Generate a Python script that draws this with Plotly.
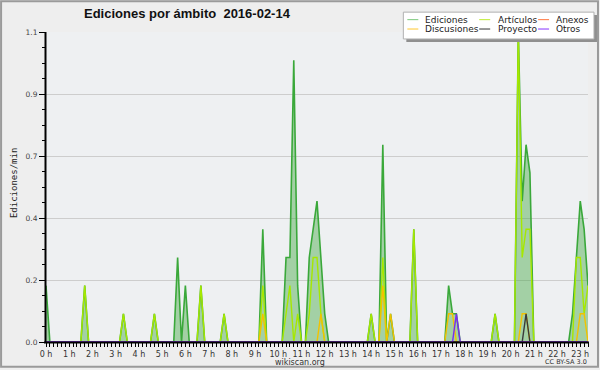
import plotly.graph_objects as go

# 10-minute slots from 00:00 (visible part of the day)
hour_tickvals = [0, 6, 12, 18, 24, 30, 36, 42, 48, 54, 60, 66, 72, 78, 84, 90,
                 96, 102, 108, 114, 120, 126, 132, 138]
hour_labels = ["0 h", "1 h", "2 h", "3 h", "4 h", "5 h", "6 h", "7 h", "8 h", "9 h",
               "10 h", "11 h", "12 h", "13 h", "14 h", "15 h", "16 h", "17 h",
               "18 h", "19 h", "20 h", "21 h", "22 h", "23 h"]
y_tickvals = [0, 0.22, 0.44, 0.66, 0.88, 1.1]
y_ticktext = ["0.0", "0.2", "0.4", "0.7", "0.9", "1.1"]

ediciones = [
    0.2, 0, 0, 0, 0, 0,        # 0 h
    0, 0, 0, 0, 0.2, 0,        # 1 h
    0, 0, 0, 0, 0, 0,          # 2 h
    0, 0, 0.1, 0, 0, 0,        # 3 h
    0, 0, 0, 0, 0.1, 0,        # 4 h
    0, 0, 0, 0, 0.3, 0,        # 5 h
    0.2, 0, 0, 0, 0.2, 0,      # 6 h
    0, 0, 0, 0, 0.1, 0,        # 7 h
    0, 0, 0, 0, 0, 0,          # 8 h
    0, 0, 0.4, 0, 0, 0,        # 9 h
    0, 0, 0.3, 0.3, 1.0, 0.2,  # 10 h
    0, 0, 0.3, 0.4, 0.5, 0.3,  # 11 h
    0.1, 0, 0, 0, 0, 0,        # 12 h
    0, 0, 0, 0, 0, 0,          # 13 h
    0.1, 0, 0, 0.7, 0, 0.1,    # 14 h
    0, 0, 0, 0, 0, 0.4,        # 15 h
    0, 0, 0, 0, 0, 0,          # 16 h
    0, 0, 0.2, 0.1, 0.1, 0,    # 17 h
    0, 0, 0, 0, 0, 0,          # 18 h
    0, 0, 0.1, 0, 0, 0,        # 19 h
    0, 0, 1.1, 0.5, 0.7, 0.6,  # 20 h
    0, 0, 0, 0, 0, 0,          # 21 h
    0, 0, 0, 0, 0.1, 0.3,      # 22 h
    0.5, 0.4, 0.2,             # 23 h
]
articulos = [
    0, 0, 0, 0, 0, 0,          # 0 h
    0, 0, 0, 0, 0.2, 0,        # 1 h
    0, 0, 0, 0, 0, 0,          # 2 h
    0, 0, 0.1, 0, 0, 0,        # 3 h
    0, 0, 0, 0, 0.1, 0,        # 4 h
    0, 0, 0, 0, 0, 0,          # 5 h
    0, 0, 0, 0, 0.2, 0,        # 6 h
    0, 0, 0, 0, 0.1, 0,        # 7 h
    0, 0, 0, 0, 0, 0,          # 8 h
    0, 0, 0.2, 0, 0, 0,        # 9 h
    0, 0, 0.1, 0.2, 0, 0.1,    # 10 h
    0, 0, 0.1, 0.3, 0.3, 0.1,  # 11 h
    0, 0, 0, 0, 0, 0,          # 12 h
    0, 0, 0, 0, 0, 0,          # 13 h
    0.1, 0, 0, 0.3, 0, 0,      # 14 h
    0, 0, 0, 0, 0, 0.4,        # 15 h
    0, 0, 0, 0, 0, 0,          # 16 h
    0, 0, 0, 0, 0, 0,          # 17 h
    0, 0, 0, 0, 0, 0,          # 18 h
    0, 0, 0.1, 0, 0, 0,        # 19 h
    0, 0, 1.1, 0.3, 0.4, 0.4,  # 20 h
    0, 0, 0, 0, 0, 0,          # 21 h
    0, 0, 0, 0, 0, 0.3,        # 22 h
    0.3, 0.1, 0.2,             # 23 h
]
anexos = [
    0, 0, 0, 0, 0, 0,          # 0 h
    0, 0, 0, 0, 0, 0,          # 1 h
    0, 0, 0, 0, 0, 0,          # 2 h
    0, 0, 0, 0, 0, 0,          # 3 h
    0, 0, 0, 0, 0, 0,          # 4 h
    0, 0, 0, 0, 0, 0,          # 5 h
    0, 0, 0, 0, 0, 0,          # 6 h
    0, 0, 0, 0, 0, 0,          # 7 h
    0, 0, 0, 0, 0, 0,          # 8 h
    0, 0, 0, 0, 0, 0,          # 9 h
    0, 0, 0, 0, 0, 0,          # 10 h
    0, 0, 0, 0, 0, 0,          # 11 h
    0, 0, 0, 0, 0, 0,          # 12 h
    0, 0, 0, 0, 0, 0,          # 13 h
    0, 0, 0, 0, 0, 0,          # 14 h
    0, 0, 0, 0, 0, 0,          # 15 h
    0, 0, 0, 0, 0, 0,          # 16 h
    0, 0, 0, 0, 0, 0,          # 17 h
    0, 0, 0, 0, 0, 0,          # 18 h
    0, 0, 0, 0, 0, 0,          # 19 h
    0, 0, 0, 0, 0, 0,          # 20 h
    0, 0, 0, 0, 0, 0,          # 21 h
    0, 0, 0, 0, 0, 0,          # 22 h
    0, 0, 0,                   # 23 h
]
discusiones = [
    0, 0, 0, 0, 0, 0,          # 0 h
    0, 0, 0, 0, 0, 0,          # 1 h
    0, 0, 0, 0, 0, 0,          # 2 h
    0, 0, 0, 0, 0, 0,          # 3 h
    0, 0, 0, 0, 0, 0,          # 4 h
    0, 0, 0, 0, 0, 0,          # 5 h
    0, 0, 0, 0, 0, 0,          # 6 h
    0, 0, 0, 0, 0, 0,          # 7 h
    0, 0, 0, 0, 0, 0,          # 8 h
    0, 0, 0.1, 0, 0, 0,        # 9 h
    0, 0, 0, 0, 0, 0,          # 10 h
    0, 0, 0, 0, 0, 0.1,        # 11 h
    0, 0, 0, 0, 0, 0,          # 12 h
    0, 0, 0, 0, 0, 0,          # 13 h
    0, 0, 0, 0.2, 0, 0.1,      # 14 h
    0, 0, 0, 0, 0, 0,          # 15 h
    0, 0, 0, 0, 0, 0,          # 16 h
    0, 0, 0.1, 0.1, 0, 0,      # 17 h
    0, 0, 0, 0, 0, 0,          # 18 h
    0, 0, 0, 0, 0, 0,          # 19 h
    0, 0, 0, 0.1, 0.1, 0,      # 20 h
    0, 0, 0, 0, 0, 0,          # 21 h
    0, 0, 0, 0, 0, 0,          # 22 h
    0.1, 0.1, 0,               # 23 h
]
proyecto = [
    0, 0, 0, 0, 0, 0,          # 0 h
    0, 0, 0, 0, 0, 0,          # 1 h
    0, 0, 0, 0, 0, 0,          # 2 h
    0, 0, 0, 0, 0, 0,          # 3 h
    0, 0, 0, 0, 0, 0,          # 4 h
    0, 0, 0, 0, 0, 0,          # 5 h
    0, 0, 0, 0, 0, 0,          # 6 h
    0, 0, 0, 0, 0, 0,          # 7 h
    0, 0, 0, 0, 0, 0,          # 8 h
    0, 0, 0, 0, 0, 0,          # 9 h
    0, 0, 0, 0, 0, 0,          # 10 h
    0, 0, 0, 0, 0, 0,          # 11 h
    0, 0, 0, 0, 0, 0,          # 12 h
    0, 0, 0, 0, 0, 0,          # 13 h
    0, 0, 0, 0, 0, 0,          # 14 h
    0, 0, 0, 0, 0, 0,          # 15 h
    0, 0, 0, 0, 0, 0,          # 16 h
    0, 0, 0, 0, 0, 0,          # 17 h
    0, 0, 0, 0, 0, 0,          # 18 h
    0, 0, 0, 0, 0, 0,          # 19 h
    0, 0, 0, 0, 0.1, 0,        # 20 h
    0, 0, 0, 0, 0, 0,          # 21 h
    0, 0, 0, 0, 0, 0,          # 22 h
    0, 0, 0,                   # 23 h
]
otros = [
    0, 0, 0, 0, 0, 0,          # 0 h
    0, 0, 0, 0, 0, 0,          # 1 h
    0, 0, 0, 0, 0, 0,          # 2 h
    0, 0, 0, 0, 0, 0,          # 3 h
    0, 0, 0, 0, 0, 0,          # 4 h
    0, 0, 0, 0, 0, 0,          # 5 h
    0, 0, 0, 0, 0, 0,          # 6 h
    0, 0, 0, 0, 0, 0,          # 7 h
    0, 0, 0, 0, 0, 0,          # 8 h
    0, 0, 0, 0, 0, 0,          # 9 h
    0, 0, 0, 0, 0, 0,          # 10 h
    0, 0, 0, 0, 0, 0,          # 11 h
    0, 0, 0, 0, 0, 0,          # 12 h
    0, 0, 0, 0, 0, 0,          # 13 h
    0, 0, 0, 0, 0, 0,          # 14 h
    0, 0, 0, 0, 0, 0,          # 15 h
    0, 0, 0, 0, 0, 0,          # 16 h
    0, 0, 0, 0, 0.1, 0,        # 17 h
    0, 0, 0, 0, 0, 0,          # 18 h
    0, 0, 0, 0, 0, 0,          # 19 h
    0, 0, 0, 0, 0, 0,          # 20 h
    0, 0, 0, 0, 0, 0,          # 21 h
    0, 0, 0, 0, 0, 0,          # 22 h
    0, 0, 0,                   # 23 h
]

series_names = ["Ediciones", "Artículos", "Anexos", "Discusiones", "Proyecto", "Otros"]
series_values = [ediciones, articulos, anexos, discusiones, proyecto, otros]
line_colors = ["#3aa83a", "#a6e800", "#ff6a3a", "#f2c200", "#3a3a3a", "#7a2cf0"]
legend_colors = ["#8fd08f", "#c8ee50", "#ff8a5a", "#ffd050", "#555555", "#9a55ff"]

slots = list(range(len(ediciones)))

fig = go.Figure()
for k, (name, vals) in enumerate(zip(series_names, series_values)):
    if k == 0:
        fig.add_trace(go.Scatter(x=slots, y=vals, mode="lines", name=name,
                                 line=dict(color=line_colors[k], width=1.6),
                                 fill="tozeroy", fillcolor="rgba(60,165,60,0.42)",
                                 showlegend=False))
    else:
        fig.add_trace(go.Scatter(x=slots, y=vals, mode="lines", name=name,
                                 line=dict(color=line_colors[k], width=1.4),
                                 showlegend=False))

W, H = 600, 370
ML, MR, MT, MB = 46, 11, 32, 26
PW, PH = W - ML - MR, H - MT - MB


def px(x):
    return (x - ML) / PW


def py(y):
    return (H - MB - y) / PH


shapes = []
# axis lines drawn over the zero-valued series
shapes.append(dict(type="line", xref="paper", yref="paper", layer="above",
                   x0=px(44), x1=px(590), y0=py(344.5), y1=py(344.5),
                   line=dict(color="#000000", width=2.2)))
shapes.append(dict(type="line", xref="paper", yref="paper", layer="above",
                   x0=px(45.5), x1=px(45.5), y0=py(345), y1=py(32),
                   line=dict(color="#000000", width=2)))
# outer frame
shapes.append(dict(type="rect", xref="paper", yref="paper",
                   x0=px(1), x1=px(599), y0=py(369), y1=py(1),
                   line=dict(color="#9a9a9a", width=2), fillcolor="rgba(0,0,0,0)"))
# legend shadow and box
shapes.append(dict(type="rect", xref="paper", yref="paper",
                   x0=px(407), x1=px(598), y0=py(42), y1=py(15),
                   line=dict(width=0), fillcolor="#8f8f8f"))
shapes.append(dict(type="rect", xref="paper", yref="paper",
                   x0=px(404), x1=px(595), y0=py(39), y1=py(12),
                   line=dict(color="#b0b0b0", width=1), fillcolor="#ffffff"))

annotations = []
col_line_x = [408, 480, 539]
col_text_x = [424, 497, 555]
row_y = [19.5, 29]
for k, name in enumerate(series_names):
    r, c = k // 3, k % 3
    shapes.append(dict(type="line", xref="paper", yref="paper",
                       x0=px(col_line_x[c]), x1=px(col_line_x[c] + 11),
                       y0=py(row_y[r]), y1=py(row_y[r]),
                       line=dict(color=legend_colors[k], width=1.2)))
    annotations.append(dict(xref="paper", yref="paper", x=px(col_text_x[c]), y=py(row_y[r]),
                            text=name, showarrow=False, xanchor="left", yanchor="middle",
                            font=dict(family="DejaVu Sans", size=9, color="#222222")))

annotations.append(dict(xref="paper", yref="paper", x=px(188), y=py(13.5),
                        text="<b>Ediciones por ámbito  2016-02-14</b>", showarrow=False,
                        xanchor="center", yanchor="middle",
                        font=dict(family="Liberation Sans", size=13, color="#111111")))
annotations.append(dict(xref="paper", yref="paper", x=px(14), y=py(184),
                        text="Ediciones/min", showarrow=False, textangle=-90,
                        xanchor="center", yanchor="middle",
                        font=dict(family="DejaVu Sans Mono", size=9, color="#222222")))
annotations.append(dict(xref="paper", yref="paper", x=px(300), y=py(364.5),
                        text="wikiscan.org", showarrow=False, borderpad=0,
                        xanchor="center", yanchor="middle",
                        font=dict(family="DejaVu Sans", size=8, color="#333333")))
annotations.append(dict(xref="paper", yref="paper", x=px(589), y=py(364),
                        text="CC BY-SA 3.0", showarrow=False, borderpad=0,
                        xanchor="right", yanchor="middle",
                        font=dict(family="DejaVu Sans", size=6.5, color="#333333")))

fig.update_layout(
    width=W, height=H,
    margin=dict(l=ML, r=MR, t=MT, b=MB, pad=0),
    paper_bgcolor="#eeeeee",
    plot_bgcolor="#eef0f2",
    shapes=shapes,
    annotations=annotations,
    showlegend=False,
)
fig.update_xaxes(
    range=[0, len(ediciones) - 1],
    tickmode="array", tickvals=hour_tickvals, ticktext=hour_labels,
    ticks="outside", ticklen=4, tickwidth=1, tickcolor="#000000",
    minor=dict(dtick=1, tick0=0, ticks="outside", ticklen=4, tickwidth=1, tickcolor="#000000"),
    showgrid=False, zeroline=False,
    showline=True, linecolor="#000000", linewidth=1,
    tickfont=dict(family="DejaVu Sans", size=8, color="#333333"),
)
fig.update_yaxes(
    range=[0, 1.1],
    tickmode="array", tickvals=y_tickvals, ticktext=y_ticktext,
    ticks="outside", ticklen=6, tickwidth=1, tickcolor="#000000",
    minor=dict(dtick=0.055, tick0=0, ticks="outside", ticklen=3, tickwidth=1, tickcolor="#000000"),
    showgrid=True, gridcolor="#cdcdcd", gridwidth=1, zeroline=False,
    showline=True, linecolor="#000000", linewidth=1,
    tickfont=dict(family="DejaVu Sans", size=7.5, color="#444444"),
)

fig.write_html("out.html", config={"displayModeBar": False},
               post_script="document.body.style.margin='0';document.body.style.overflow='hidden';")
